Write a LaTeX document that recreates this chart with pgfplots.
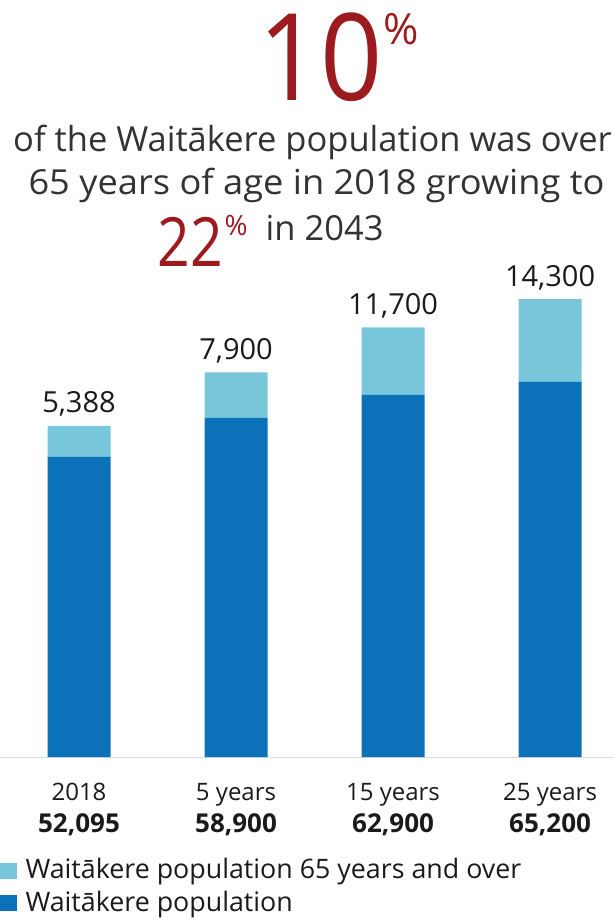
\documentclass[border=0pt]{standalone}
\usepackage{pgfplots}
\pgfplotsset{compat=1.18}
\usepackage{fontspec}
\setmainfont{Open Sans}
\definecolor{darkblue}{HTML}{0B72BA}
\definecolor{lightblue}{HTML}{77C6D9}
\definecolor{redt}{HTML}{9B1B1F}
\definecolor{txt}{HTML}{333333}
\definecolor{num}{HTML}{1A1A1A}
\begin{document}
\begin{tikzpicture}
\begin{axis}[
  name=ax,
  scale only axis, width=613pt, height=477pt,
  clip=false,
  ybar stacked, bar width=63pt,
  xmin=-0.5, xmax=3.404, ymin=0, ymax=82830,
  axis y line=none,
  axis x line=bottom,
  axis line style={draw=black!14, line width=1pt, -},
  xtick={0,1,2,3},
  xticklabels={{2018\\\textbf{\fontsize{26}{32}\selectfont 52,095}},
               {5 years\\\textbf{\fontsize{26}{32}\selectfont 58,900}},
               {15 years\\\textbf{\fontsize{26}{32}\selectfont 62,900}},
               {25 years\\\textbf{\fontsize{26}{32}\selectfont 65,200}}},
  major tick length=0pt,
  xticklabel style={font=\fontsize{24}{32}\selectfont, align=center, anchor=north, inner sep=0pt, yshift=-26pt, text=num},
  legend style={at={(0,-0.2130)}, anchor=north west, draw=none, fill=none,
    font=\fontsize{26.8}{30}\selectfont, text=num,
    nodes={inner sep=0pt},
    row sep=10.5pt, column sep=9pt, legend cell align=left, inner sep=0pt, outer sep=0pt},
  legend image code/.code={\fill[#1] (0pt,-9.5pt) rectangle (16pt,6.5pt);},
  reverse legend,
]
\addplot[fill=darkblue, draw=none] coordinates {(0,52095) (1,58900) (2,62900) (3,65200)};
\addplot[fill=lightblue, draw=none] coordinates {(0,5388) (1,7900) (2,11700) (3,14300)};
\legend{Waitākere population,Waitākere population 65 years and over}
\node[anchor=base, yshift=13pt, inner sep=0pt, text=num, font=\fontsize{29}{30}\selectfont] at (axis cs:0,57483) {5,388};
\node[anchor=base, yshift=13pt, inner sep=0pt, text=num, font=\fontsize{29}{30}\selectfont] at (axis cs:1,66800) {7,900};
\node[anchor=base, yshift=13pt, inner sep=0pt, text=num, font=\fontsize{29}{30}\selectfont] at (axis cs:2,74600) {11,700};
\node[anchor=base, yshift=13pt, inner sep=0pt, text=num, font=\fontsize{29}{30}\selectfont] at (axis cs:3,79500) {14,300};
\coordinate (O) at (rel axis cs:0,0);
\end{axis}
\begin{scope}[shift={(O)}]
% page extent (613 x 921 px): baseline of the bars is 757 px from the top
\path (0pt,-164pt) rectangle (613pt,757pt);
% headline
\node[anchor=base, text=redt, inner sep=0pt, font=\fontsize{121}{121}\selectfont] at (320pt,656pt) {\scalebox{0.9}[1]{10}};
\node[anchor=base west, text=redt, inner sep=0pt, font=\fontsize{43}{43}\selectfont] at (383pt,712pt) {\%};
\node[anchor=base, text=txt, inner sep=0pt, font=\fontsize{34.5}{40}\selectfont] at (312pt,605pt) {of the Waitākere population was over};
\node[anchor=base, text=txt, inner sep=0pt, font=\fontsize{34.5}{40}\selectfont] at (316pt,562pt) {\scalebox{1.05}[1]{65 years of age in 2018 growing to}};
\node[anchor=base west, text=redt, inner sep=0pt, font=\fontsize{68}{68}\selectfont] at (157pt,490pt) {\scalebox{0.84}[1]{22}};
\node[anchor=base west, text=redt, inner sep=0pt, font=\fontsize{28}{28}\selectfont] at (224pt,521pt) {\%};
\node[anchor=base west, text=txt, inner sep=0pt, font=\fontsize{34.5}{40}\selectfont] at (265pt,516pt) {in 2043};
\end{scope}
\end{tikzpicture}
\end{document}
